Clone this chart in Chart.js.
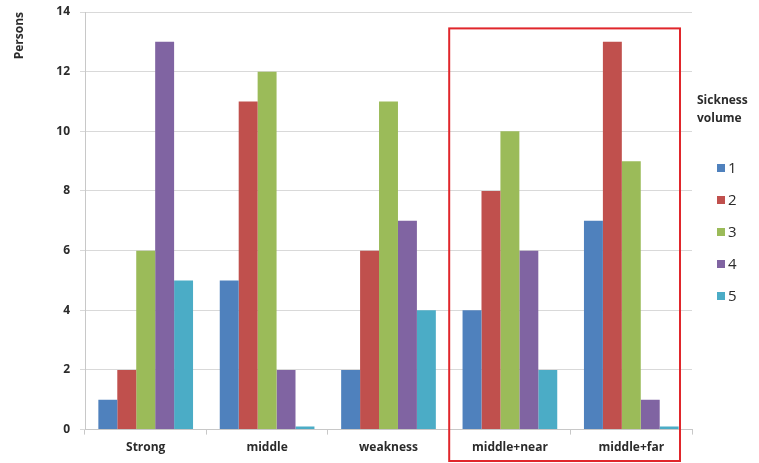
<!DOCTYPE html>
<html>
<head>
<meta charset="utf-8">
<script src="https://cdn.jsdelivr.net/npm/chart.js@4"></script>
<style>
  html, body { margin: 0; padding: 0; background: #fff; }
  #wrap { width: 759px; height: 463px; }
</style>
</head>
<body>
<div id="wrap"><canvas id="chart" width="759" height="463"></canvas></div>
<script>
// categorias y valores (personas por volumen de mareo)
const categories = ['Strong', 'middle', 'weakness', 'middle+near', 'middle+far'];
const seriesNames = ['1', '2', '3', '4', '5'];
const vol1 = [1, 5, 2, 4, 7];
const vol2 = [2, 11, 6, 8, 13];
const vol3 = [6, 12, 11, 10, 9];
const vol4 = [13, 2, 7, 6, 1];
const vol5 = [5, 0.1, 4, 2, 0.1];
const yTicks = [0, 2, 4, 6, 8, 10, 12, 14];

const colors = ['#4f81bd', '#c0504d', '#9bbb59', '#8064a2', '#4bacc6'];
const allValues = [vol1, vol2, vol3, vol4, vol5];

const textColor = '#2b2b2b';
const fontFam = "'Open Sans', 'DejaVu Sans', sans-serif";

// leyenda dibujada a mano (titulo en dos lineas)
const legendPlugin = {
    id: 'sideLegend',
    afterDraw(chart) {
        const ctx = chart.ctx;
        ctx.save();
        ctx.fillStyle = textColor;
        ctx.font = 'bold 12px ' + fontFam;
        ctx.textBaseline = 'middle';
        ctx.textAlign = 'left';
        ctx.fillText('Sickness', 697, 101);
        ctx.fillText('volume', 697, 119);
        chart.data.datasets.forEach((ds, i) => {
            const y = 168 + i * 32;
            ctx.fillStyle = ds.backgroundColor;
            ctx.fillRect(717, y - 4, 8, 8);
            ctx.fillStyle = textColor;
            ctx.font = '15px ' + fontFam;
            ctx.fillText(ds.label, 728, y + 1);
        });
        ctx.restore();
    }
};

// recuadro rojo alrededor de los dos ultimos grupos
const boxPlugin = {
    id: 'redBox',
    afterDraw(chart) {
        const x = chart.scales.x;
        const y = chart.scales.y;
        const step = x.getPixelForValue(1) - x.getPixelForValue(0);
        const left = x.getPixelForValue(3) - step / 2;
        const right = x.getPixelForValue(4) + step / 2 - 12;
        const top = y.getPixelForValue(13.45);
        const ctx = chart.ctx;
        ctx.save();
        ctx.strokeStyle = '#e0262b';
        ctx.lineWidth = 2;
        ctx.strokeRect(left, top, right - left, 461 - top);
        ctx.restore();
    }
};

const ctx = document.getElementById('chart').getContext('2d');
new Chart(ctx, {
    type: 'bar',
    data: {
        labels: categories,
        datasets: seriesNames.map((name, i) => ({
            label: name,
            data: allValues[i],
            backgroundColor: colors[i],
            borderWidth: 0,
            barPercentage: 1,
            categoryPercentage: 0.78
        }))
    },
    options: {
        responsive: false,
        animation: false,
        layout: { padding: { left: 12, right: 67, top: 12, bottom: 2 } },
        plugins: {
            legend: { display: false },
            tooltip: { enabled: false }
        },
        scales: {
            x: {
                grid: {
                    display: true,
                    drawOnChartArea: false,
                    drawTicks: true,
                    tickLength: 5,
                    color: '#c8c8c8'
                },
                border: { color: '#c8c8c8' },
                ticks: {
                    color: textColor,
                    font: { family: fontFam, size: 12, weight: 'bold' },
                    padding: 6
                }
            },
            y: {
                min: 0,
                max: 14,
                afterBuildTicks(scale) {
                    scale.ticks = yTicks.map(v => ({ value: v }));
                },
                afterFit(scale) {
                    scale.width = 73;
                    scale.paddingTop = 0;
                },
                grid: { color: '#d9d9d9', tickLength: 5 },
                border: { color: '#c8c8c8' },
                title: {
                    display: true,
                    text: 'Persons',
                    align: 'end',
                    color: textColor,
                    font: { family: fontFam, size: 12, weight: 'bold' },
                    padding: { top: 0, bottom: 18 }
                },
                ticks: {
                    color: textColor,
                    font: { family: fontFam, size: 12, weight: 'bold' },
                    padding: 10
                }
            }
        }
    },
    plugins: [legendPlugin, boxPlugin]
});
</script>
</body>
</html>
